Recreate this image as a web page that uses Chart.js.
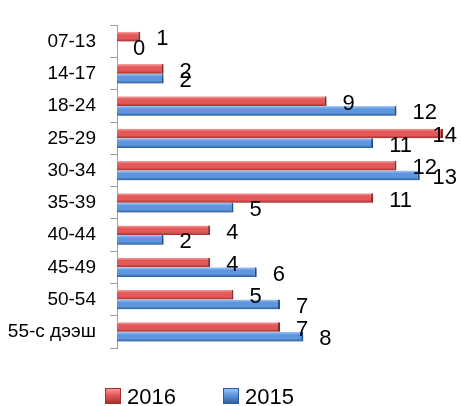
<!DOCTYPE html>
<html><head><meta charset="utf-8">
<script src="https://cdn.jsdelivr.net/npm/chart.js@4.4.0/dist/chart.umd.min.js"></script>
<style>html,body{margin:0;padding:0;background:#fff}#wrap{width:461px;height:406px;position:relative}</style>
</head><body><div id="wrap"><canvas id="c"></canvas></div>
<script>
const categories = ['07-13','14-17','18-24','25-29','30-34','35-39','40-44','45-49','50-54','55-с дээш'];
const values2016 = [1,2,9,14,12,11,4,4,5,7];
const values2015 = [0,2,12,11,13,5,2,6,7,8];
const seriesNames = ['2016','2015'];
const xMax = 14;

const palettes = [
  {light:'#f7a3a3', mid:'#e35858', dark:'#a32d2d', solid:'#d94a4a'},
  {light:'#a3c8f7', mid:'#5d96df', dark:'#2c5b9b', solid:'#4f86d0'}
];
const catPct = 0.6;

function barFill(ds){
  return function(c){
    const p = palettes[ds];
    const chart = c.chart; const y = chart.scales && chart.scales.y;
    if (!y || !y.height || c.dataIndex === undefined) return p.solid;
    const center = y.getPixelForValue(c.dataIndex);
    const band = y.height / categories.length;
    const t = band * catPct / 2;
    const top = center - t + ds * t;
    const g = chart.ctx.createLinearGradient(0, top, 0, top + t);
    g.addColorStop(0, p.light); g.addColorStop(0.3, p.mid);
    g.addColorStop(0.7, p.mid); g.addColorStop(1, p.dark);
    return g;
  };
}

const fx = {
  id: 'fx',
  beforeDatasetsDraw(chart){
    const ctx = chart.ctx; ctx.save();
    ctx.shadowColor = 'rgba(0,0,0,0.25)'; ctx.shadowBlur = 3;
    ctx.shadowOffsetX = 2; ctx.shadowOffsetY = 2;
  },
  afterDatasetsDraw(chart){
    const ctx = chart.ctx; ctx.restore();
    ctx.save();
    ctx.font = '22px "Liberation Sans"'; ctx.fillStyle = '#000';
    ctx.textAlign = 'left'; ctx.textBaseline = 'middle';
    chart.data.datasets.forEach((d, di) => {
      const meta = chart.getDatasetMeta(di);
      meta.data.forEach((el, i) => {
        const txt = String(d.data[i]);
        const w = ctx.measureText(txt).width;
        let x = el.x + 16;
        x = Math.min(x, chart.width - 4 - w);
        ctx.fillText(txt, x, el.y + 2.5);
      });
    });
    ctx.restore();
  },
  afterDraw(chart){
    const ctx = chart.ctx; ctx.save();
    const items = [{x:105, tx:127}, {x:223, tx:245}];
    ctx.font = '22px "Liberation Sans"'; ctx.fillStyle = '#000';
    ctx.textBaseline = 'alphabetic'; ctx.textAlign = 'left';
    chart.data.datasets.forEach((d, di) => {
      const p = palettes[di]; const it = items[di];
      const by = 388, s = 16;
      const g = ctx.createLinearGradient(0, by, 0, by + s);
      g.addColorStop(0, p.light); g.addColorStop(0.45, p.mid); g.addColorStop(1, p.dark);
      ctx.fillStyle = g; ctx.fillRect(it.x, by, s, s);
      ctx.strokeStyle = p.dark; ctx.lineWidth = 1; ctx.strokeRect(it.x + 0.5, by + 0.5, s - 1, s - 1);
      ctx.fillStyle = '#000';
      ctx.fillText(d.label, it.tx, 404);
    });
    ctx.restore();
  }
};

new Chart(document.getElementById('c'), {
  type: 'bar',
  data: {
    labels: categories,
    datasets: [
      {label: seriesNames[0], data: values2016, backgroundColor: barFill(0),
       borderColor: palettes[0].dark, borderWidth: {top:0, bottom:0, left:0, right:2}, borderSkipped: 'start'},
      {label: seriesNames[1], data: values2015, backgroundColor: barFill(1),
       borderColor: palettes[1].dark, borderWidth: {top:0, bottom:0, left:0, right:2}, borderSkipped: 'start'}
    ]
  },
  options: {
    indexAxis: 'y',
    responsive: true, maintainAspectRatio: false, animation: false,
    categoryPercentage: catPct, barPercentage: 1.0,
    layout: {padding: {top: 12, right: 18, bottom: 58, left: 0}},
    plugins: {legend: {display: false}, tooltip: {enabled: false}},
    scales: {
      x: {min: 0, max: xMax, display: false},
      y: {
        afterFit(s){ s.width = 117; },
        grid: {display: true, drawOnChartArea: false, drawTicks: true, tickLength: 7, color: '#a0a0a0', offset: true},
        border: {display: true, color: '#a0a0a0', width: 1},
        ticks: {color: '#000', font: {family: 'Liberation Sans', size: 19}, padding: 14, autoSkip: false}
      }
    }
  },
  plugins: [fx]
});
</script></body></html>
